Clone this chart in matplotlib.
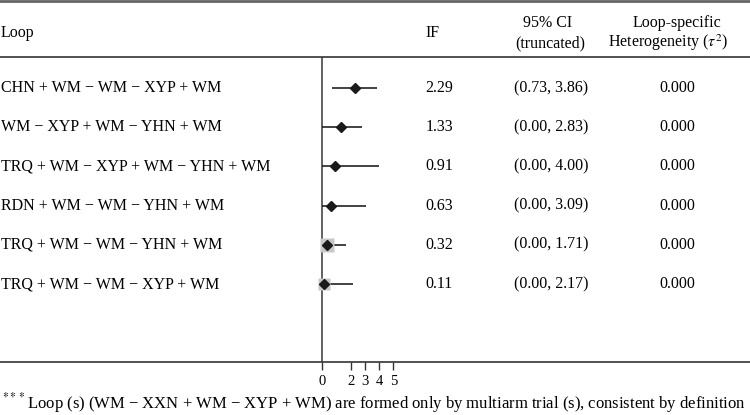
import numpy as np
import matplotlib.pyplot as plt

plt.rcParams['font.family'] = ['Liberation Serif', 'DejaVu Serif']
plt.rcParams['mathtext.fontset'] = 'stix'

# Data
loops = ["CHN + WM − WM − XYP + WM",
         "WM − XYP + WM − YHN + WM",
         "TRQ + WM − XYP + WM − YHN + WM",
         "RDN + WM − WM − YHN + WM",
         "TRQ + WM − WM − YHN + WM",
         "TRQ + WM − WM − XYP + WM"]
if_vals = [2.29, 1.33, 0.91, 0.63, 0.32, 0.11]
ci_low = [0.73, 0.00, 0.00, 0.00, 0.00, 0.00]
ci_high = [3.86, 2.83, 4.00, 3.09, 1.71, 2.17]
tau2 = [0.000, 0.000, 0.000, 0.000, 0.000, 0.000]
weights = [0.3, 0.3, 0.3, 0.3, 1.0, 0.85]
xticks = [0, 2, 3, 4, 5]

W, H = 750, 415
fig = plt.figure(figsize=(W / 100, H / 100), dpi=100)

# axes in pixel coordinates
top_px, bot_px = 57, 362
ax = fig.add_axes([0, 1 - bot_px / H, 1, (bot_px - top_px) / H])
px_per_unit = 14.3
x0_px = 322
ax.set_xlim(-x0_px / px_per_unit, (W - x0_px) / px_per_unit)
row_gap = 39.2
first_row = 31
ax.set_ylim((bot_px - top_px - first_row) / row_gap, -first_row / row_gap)

for s in ['top', 'right', 'left']:
    ax.spines[s].set_visible(False)
ax.spines['bottom'].set_color('#333333')
ax.spines['bottom'].set_linewidth(1.2)
ax.set_yticks([])
ax.set_xticks(xticks)
ax.set_xticklabels([str(t) for t in xticks], fontsize=10.5)
ax.tick_params(axis='x', direction='out', length=6, width=1.0,
               color='#333333', pad=3)
ax.axvline(0, color='#555555', lw=1.3, zorder=1)

y = np.arange(len(loops))
ax.hlines(y, ci_low, ci_high, color='#222222', lw=1.2, zorder=2)
for i in range(len(loops)):
    ax.plot(if_vals[i], y[i], marker='s', ms=10 * weights[i],
            color='#c8c8c8', mec='none', zorder=3)
ax.plot(if_vals, y, 'D', color='#1a1a1a', ms=5.3, zorder=4)

# table text
fs = 11.5
for i in range(len(loops)):
    ax.text(-x0_px / px_per_unit + 0.1, y[i], loops[i], fontsize=fs,
            va='center', ha='left')
    ax.text((439 - x0_px) / px_per_unit, y[i], f"{if_vals[i]:.2f}",
            fontsize=fs, va='center', ha='center')
    ax.text((551 - x0_px) / px_per_unit, y[i],
            f"({ci_low[i]:.2f}, {ci_high[i]:.2f})",
            fontsize=fs, va='center', ha='center')
    ax.text((677 - x0_px) / px_per_unit, y[i], f"{tau2[i]:.3f}",
            fontsize=fs, va='center', ha='center')

# header
def ftext(x, yy, s, size=fs, **kw):
    fig.text(x / W, 1 - yy / H, s, fontsize=size, va='center', **kw)

ftext(1, 33, "Loop", ha='left')
ftext(433, 33, "IF", ha='center')
ftext(548, 23, "95% CI", ha='center')
ftext(550, 43, "(truncated)", ha='center')
ftext(677, 23, "Loop-specific", ha='center')
ftext(668, 43, r"Heterogeneity ($\tau^2$)", ha='center')

fig.add_artist(plt.Line2D([0, 1], [1 - 1.5 / H] * 2, color='#666666', lw=2))
fig.add_artist(plt.Line2D([0, 1], [1 - 57 / H] * 2, color='#333333', lw=1.2))

# footnote
ftext(2, 403, r"$^{***}$Loop (s) (WM − XXN + WM − XYP + WM) are formed only by "
      "multiarm trial (s), consistent by definition", size=12, ha='left')

fig.savefig('out.png', dpi=100)
